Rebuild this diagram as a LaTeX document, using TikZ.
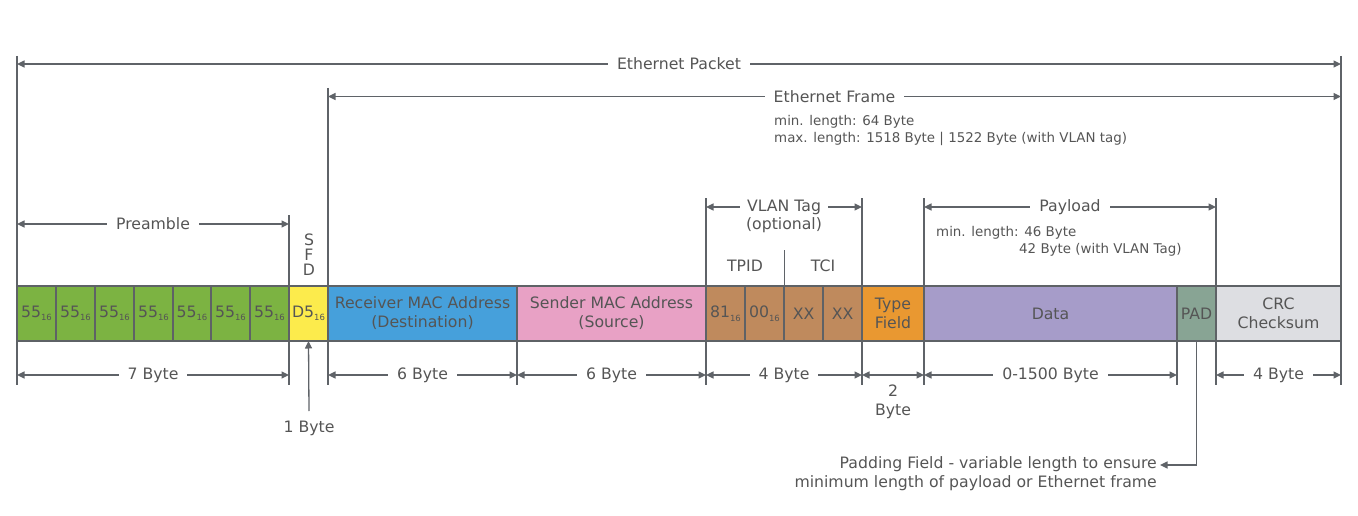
\documentclass[tikz,border=0pt]{standalone}
\usepackage{fontspec}
\setmainfont{DejaVu Sans}
\usetikzlibrary{arrows.meta}
\definecolor{lc}{HTML}{5F6368}
\definecolor{bc}{HTML}{5E6266}
\definecolor{tc}{HTML}{555555}
\definecolor{cgreen}{HTML}{7CB342}
\definecolor{cyellow}{HTML}{FCEB4C}
\definecolor{cblue}{HTML}{46A0DB}
\definecolor{cpink}{HTML}{E8A1C5}
\definecolor{cbrown}{HTML}{BF8A5D}
\definecolor{corange}{HTML}{E99831}
\definecolor{cpurple}{HTML}{A69CC9}
\definecolor{cpad}{HTML}{88A494}
\definecolor{ccrc}{HTML}{DDDEE2}
\newcommand\fmainsz{\fontsize{15.7}{19}\selectfont}
\newcommand\fsmallsz{\fontsize{13.4}{17}\selectfont}
\newcommand\hexsub{\raisebox{-3.5pt}{\fontsize{8.5}{9}\selectfont 16}}
\begin{document}
\begin{tikzpicture}[x=1pt,y=-1pt,
  tip/.tip={Triangle[length=7.5pt,width=7pt]},
  dimarrow/.style={draw=lc, line width=1.3pt, {tip}-{tip}},
  extline/.style={draw=lc, line width=1.3pt},
  lbl/.style={fill=white, text=tc, font=\fmainsz, inner xsep=9pt, inner ysep=1pt},
  plain/.style={text=tc, font=\fmainsz, inner sep=0pt, align=center},
  small/.style={text=tc, font=\fsmallsz, inner sep=0pt, anchor=west},
  cell/.style={draw=bc, line width=1.6pt, minimum height=55pt, inner sep=0pt, outer sep=0pt, text=tc, font=\fmainsz, align=center, anchor=north west}]
\useasboundingbox (0,0) rectangle (1358,516);

% ---- extension lines ----
\foreach \x/\t in {17/56, 328/88, 1341/56, 289/215, 706/198, 862/198, 924/198, 1216/198}
  \draw[extline] (\x,\t) -- (\x,385);
\foreach \x in {517, 1177}
  \draw[extline] (\x,341) -- (\x,385);
\draw[extline] (784.5,250) -- (784.5,286);

% ---- cells ----
\node[cell, fill=cgreen, minimum width=39pt] (p1) at (17,286) {55\hexsub};
\node[cell, fill=cgreen, minimum width=39pt] (p2) at (56,286) {55\hexsub};
\node[cell, fill=cgreen, minimum width=39pt] (p3) at (95,286) {55\hexsub};
\node[cell, fill=cgreen, minimum width=39pt] (p4) at (134,286) {55\hexsub};
\node[cell, fill=cgreen, minimum width=38pt] (p5) at (173,286) {55\hexsub};
\node[cell, fill=cgreen, minimum width=39pt] (p6) at (211,286) {55\hexsub};
\node[cell, fill=cgreen, minimum width=39pt] (p7) at (250,286) {55\hexsub};
\node[cell, fill=cyellow, minimum width=39pt] (sfd) at (289,286) {D5\hexsub};
\node[cell, fill=cblue, minimum width=189pt] (rmac) at (328,286) {Receiver MAC Address\\(Destination)};
\node[cell, fill=cpink, minimum width=189pt] (smac) at (517,286) {Sender MAC Address\\(Source)};
\node[cell, fill=cbrown, minimum width=39pt] (v1) at (706,286) {81\hexsub};
\node[cell, fill=cbrown, minimum width=39pt] (v2) at (745,286) {00\hexsub};
\node[cell, fill=cbrown, minimum width=39pt] (v3) at (784,286) {XX};
\node[cell, fill=cbrown, minimum width=39pt] (v4) at (823,286) {XX};
\node[cell, fill=corange, minimum width=62pt] (type) at (862,286) {Type\\Field};
\node[cell, fill=cpurple, minimum width=253pt] (data) at (924,286) {Data};
\node[cell, fill=cpad, minimum width=39pt] (pad) at (1177,286) {PAD};
\node[cell, fill=ccrc, minimum width=125pt] (crc) at (1216,286) {CRC\\Checksum};

% ---- top dimension lines ----
\coordinate (pkL) at (17,64);   \coordinate (pkR) at (1341,64);
\coordinate (frL) at (328,96.5); \coordinate (frR) at (1341,96.5);
\coordinate (prL) at (17,224);  \coordinate (prR) at (289,224);
\coordinate (vlL) at (706,207); \coordinate (vlR) at (862,207);
\coordinate (plL) at (924,207); \coordinate (plR) at (1216,207);
\draw[dimarrow] (pkL) -- node[lbl] (tpk) {Ethernet Packet} (pkR);
\draw[dimarrow] (frL) -- node[lbl] (tfr) {Ethernet Frame} (frR);
\draw[dimarrow] (prL) -- node[lbl] (tpr) {Preamble} (prR);
\draw[dimarrow] (vlL) -- node[lbl, inner xsep=7pt] (tvl) {VLAN Tag} (vlR);
\draw[dimarrow] (plL) -- node[lbl] (tpl) {Payload} (plR);

\node[plain] (opt) at (784,225) {(optional)};
\node[plain] (tpid) at (745,266) {TPID};
\node[plain] (tci) at (823,266) {TCI};
\node[plain, font=\fontsize{15.7}{15}\selectfont] (sfdl) at (309,255) {S\\F\\D};

\node[small] (fmin) at (774,122) {min. length: 64 Byte};
\node[small] (fmax) at (774,139) {max. length: 1518 Byte | 1522 Byte (with VLAN tag)};
\node[small] (pmin) at (936,233) {min. length: 46 Byte};
\node[small] (pmin2) at (1019,250) {42 Byte (with VLAN Tag)};

% ---- bottom dimension lines ----
\coordinate (b0) at (17,375);   \coordinate (b1) at (289,375);
\coordinate (b2) at (328,375);  \coordinate (b3) at (517,375);
\coordinate (b4) at (706,375);  \coordinate (b5) at (862,375);
\coordinate (b6) at (924,375);  \coordinate (b7) at (1177,375);
\coordinate (b8) at (1216,375); \coordinate (b9) at (1341,375);
\draw[dimarrow] (b0) -- node[lbl] (l7) {7 Byte} (b1);
\draw[dimarrow] (b2) -- node[lbl] (l6a) {6 Byte} (b3);
\draw[dimarrow] (b3) -- node[lbl] (l6b) {6 Byte} (b4);
\draw[dimarrow] (b4) -- node[lbl] (l4a) {4 Byte} (b5);
\draw[dimarrow] (b5) -- (b6);
\draw[dimarrow] (b6) -- node[lbl] (l1500) {0-1500 Byte} (b7);
\draw[dimarrow] (b8) -- node[lbl] (l4b) {4 Byte} (b9);
\node[plain] (l2) at (893,401.5) {2\\Byte};

% ---- 1 Byte pointer ----
\coordinate (oneb) at (309,411);
\draw[extline, -{tip}] (oneb) -- (sfd.south);
\node[plain] (l1) at (309,428) {1 Byte};

% ---- padding note ----
\node[plain, anchor=east] (padn1) at (1157,464) {Padding Field - variable length to ensure};
\node[plain, anchor=east] (padn2) at (1157,483) {minimum length of payload or Ethernet frame};
\coordinate (padc) at (1196.5,465);
\draw[extline, -{tip}] (pad.south) -- (padc) -- ([xshift=3pt]padn1.east |- padc);
\end{tikzpicture}
\end{document}
